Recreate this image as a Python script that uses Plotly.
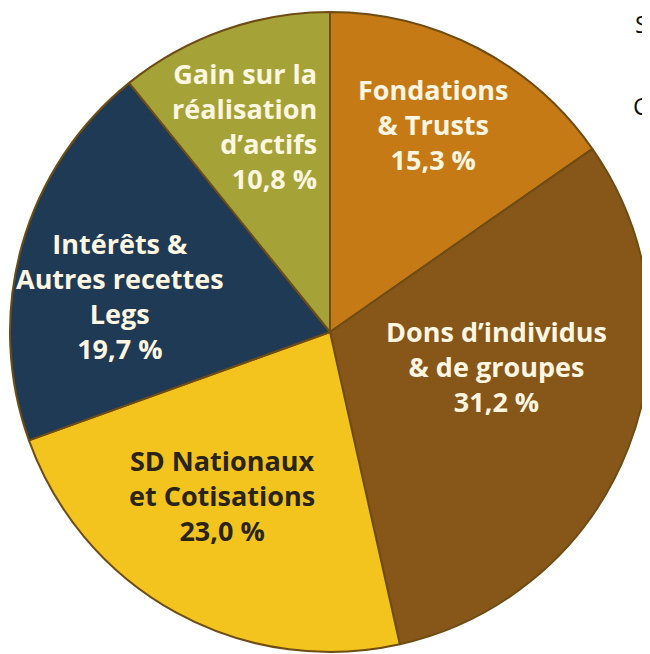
import plotly.graph_objects as go

labels = ["Fondations<br>& Trusts", "Dons d’individus<br>& de groupes", "SD Nationaux<br>et Cotisations",
          "Intérêts &<br>Autres recettes<br>Legs", "Gain sur la<br>réalisation<br>d’actifs"]
values = [15.3, 31.2, 23.0, 19.7, 10.8]
colors = ["#C57A16", "#87571A", "#F2C41D", "#1F3A55", "#A5A338"]
text_colors = ["#FFF6E2", "#FFF6E2", "#2A2414", "#FFF6E2", "#FFF6E2"]
# label anchor positions (page pixels from top-left)
label_pos = [(433, 125), (496, 366), (222, 495), (120, 296), (319, 126)]
label_align = ["center", "center", "center", "center", "right"]
side_letters = ["S", "I", "C"]
side_y = [24, 64, 106]

OFF = 8  # browser body margin
W, H = 650 - OFF, 654 - OFF
cx, cy, r = 330 - OFF, 332 - OFF, 320

fig = go.Figure(go.Pie(
    values=values,
    labels=labels,
    sort=False,
    direction="clockwise",
    rotation=0,
    textinfo="none",
    hoverinfo="label+percent",
    marker=dict(colors=colors, line=dict(color="#6E4C14", width=2)),
    domain=dict(x=[(cx - r) / W, (cx + r) / W], y=[(H - cy - r) / H, (H - cy + r) / H]),
    showlegend=False,
))

annotations = []
for lab, v, col, (px, py), al in zip(labels, values, text_colors, label_pos, label_align):
    txt = lab + "<br>" + f"{v:.1f}".replace(".", ",") + " %"
    annotations.append(dict(
        x=(px - OFF) / W, y=1 - (py - OFF) / H, xref="paper", yref="paper",
        text="<b>" + txt + "</b>", showarrow=False, align=al,
        xanchor="right" if al == "right" else "center", yanchor="middle",
        font=dict(family="Open Sans", size=27, color=col),
    ))

for s, yy in zip(side_letters, side_y):
    annotations.append(dict(
        x=(650 - OFF) / W, y=1 - (yy - OFF) / H, xref="paper", yref="paper",
        text=s, showarrow=False, xanchor="right", yanchor="middle",
        font=dict(family="Open Sans", size=24, color="#111111"),
    ))

fig.update_layout(
    width=W, height=H,
    margin=dict(l=0, r=0, t=0, b=0),
    paper_bgcolor="white", plot_bgcolor="white",
    annotations=annotations,
)

fig.write_html("out.html")
